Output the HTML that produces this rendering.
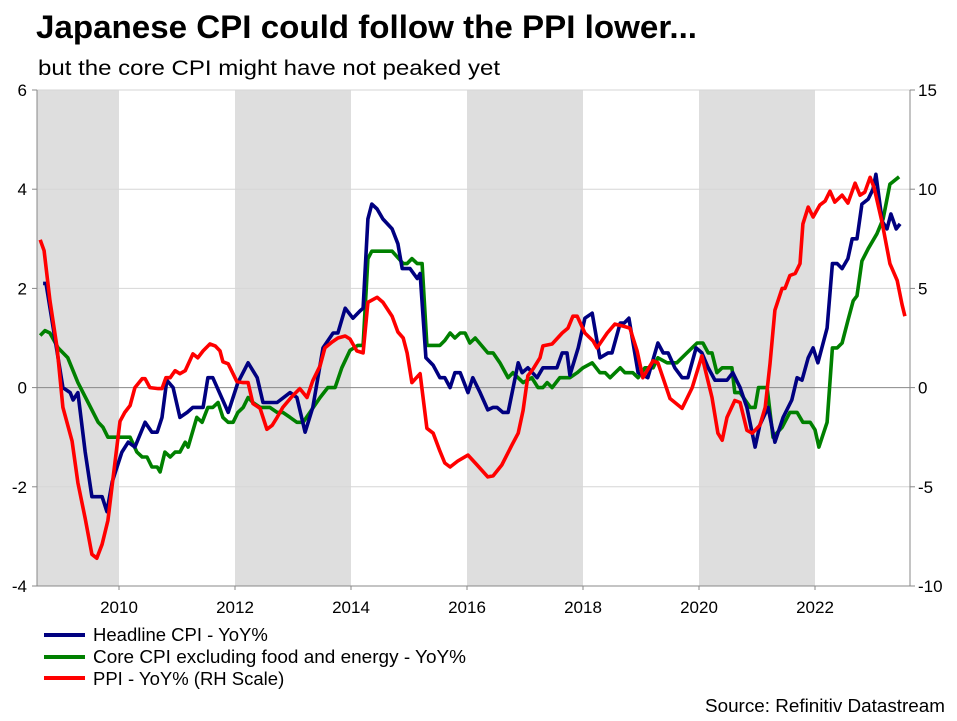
<!DOCTYPE html>
<html><head><meta charset="utf-8"><style>
body{margin:0;background:#fff;width:957px;height:716px;overflow:hidden;font-family:"Liberation Sans",Arial,sans-serif;}
</style></head><body>
<svg id="chart" width="957" height="716" xmlns="http://www.w3.org/2000/svg" font-family="Liberation Sans, Arial, sans-serif">
<text x="36" y="38" font-size="32" font-weight="bold" fill="#000" textLength="661" lengthAdjust="spacingAndGlyphs">Japanese CPI could follow the PPI lower...</text>
<text x="38" y="75" font-size="21" fill="#000" textLength="462" lengthAdjust="spacingAndGlyphs">but the core CPI might have not peaked yet</text>
<g id="bands"></g><g id="grid"></g><g id="axes"></g><g id="series"></g>
<g>
<line x1="44" y1="635" x2="85" y2="635" stroke="#000080" stroke-width="4"/>
<text x="93" y="641" font-size="18.5">Headline CPI - YoY%</text>
<line x1="44" y1="657" x2="85" y2="657" stroke="#008000" stroke-width="4"/>
<text x="93" y="663" font-size="18.5" textLength="373" lengthAdjust="spacingAndGlyphs">Core CPI excluding food and energy - YoY%</text>
<line x1="44" y1="678" x2="85" y2="678" stroke="#ff0000" stroke-width="4"/>
<text x="93" y="685" font-size="18.5">PPI - YoY% (RH Scale)</text>
</g>
<text x="945" y="712" font-size="18" text-anchor="end" textLength="240" lengthAdjust="spacingAndGlyphs">Source: Refinitiv Datastream</text>
</svg>
<script>
// months since Jan 2008
const yearTicks=[2010,2012,2014,2016,2018,2020,2022];
const leftTicks=[6,4,2,0,-2,-4];
const rightTicks=[15,10,5,0,-5,-10];
const shadedStartYears=[2008,2012,2016,2020];
const headlineCPI=[[8.3,2.1],[8.9,2.1],[12.4,0],[13.9,-0.1],[14.5,-0.25],[15.5,-0.1],[17.0,-1.3],[18.4,-2.2],[20.5,-2.2],[21.5,-2.5],[22.6,-1.9],[24.6,-1.3],[25.9,-1.1],[27.3,-1.2],[29.4,-0.7],[30.8,-0.9],[31.9,-0.9],[32.9,-0.6],[33.9,0.15],[35.2,0],[36.6,-0.6],[38.1,-0.5],[39.3,-0.4],[41.4,-0.4],[42.4,0.2],[43.4,0.2],[46.6,-0.5],[48.6,0.1],[50.7,0.5],[52.6,0.2],[53.8,-0.3],[56.7,-0.3],[59.4,-0.1],[60.8,-0.2],[62.5,-0.9],[64.1,-0.4],[66.2,0.8],[68.3,1.1],[69.3,1.1],[70.8,1.6],[72.4,1.4],[73.9,1.55],[74.5,1.6],[75.5,3.4],[76.3,3.7],[77.4,3.6],[78.6,3.4],[80.5,3.2],[81.7,2.9],[82.6,2.4],[84.2,2.4],[85.7,2.2],[86.3,2.3],[87.5,0.6],[89.0,0.45],[90.4,0.2],[91.4,0.2],[92.5,0],[93.5,0.3],[94.6,0.3],[96.2,-0.1],[97.2,0.2],[98.7,-0.1],[100.3,-0.45],[101.4,-0.4],[102.2,-0.4],[103.4,-0.5],[104.5,-0.5],[106.6,0.5],[107.4,0.3],[108.6,0.4],[110.5,0.2],[111.7,0.4],[114.6,0.4],[115.7,0.7],[116.7,0.7],[117.3,0.25],[119.0,0.8],[120.4,1.4],[121.9,1.5],[123.5,0.6],[125.2,0.7],[126.0,0.7],[127.7,1.3],[128.5,1.3],[129.5,1.4],[131.4,0.3],[133.4,0.2],[135.5,0.9],[136.6,0.7],[137.6,0.7],[139.0,0.4],[140.5,0.2],[141.7,0.2],[143.4,0.8],[144.6,0.7],[145.9,0.4],[147.3,0.15],[149.8,0.15],[151.0,0.3],[152.5,0],[153.9,-0.4],[155.6,-1.2],[156.6,-0.75],[158.3,-0.4],[159.7,-1.1],[161.4,-0.6],[163.2,-0.25],[164.3,0.2],[165.3,0.15],[166.6,0.6],[167.6,0.8],[168.6,0.5],[170.5,1.2],[171.6,2.5],[172.6,2.5],[173.6,2.4],[174.8,2.6],[175.7,3.0],[176.7,3.0],[177.7,3.7],[179.0,3.8],[180.0,4.0],[180.6,4.3],[181.9,3.35],[182.9,3.2],[183.7,3.5],[184.8,3.2],[185.6,3.3]];
const coreCPI=[[7.7,1.05],[8.7,1.15],[9.7,1.1],[11.4,0.8],[13.4,0.6],[15.5,0.1],[17.6,-0.3],[19.7,-0.7],[20.7,-0.8],[21.7,-1.0],[22.8,-1.0],[24.2,-1.0],[26.3,-1.0],[27.7,-1.3],[28.8,-1.4],[29.8,-1.4],[30.8,-1.6],[31.9,-1.6],[32.5,-1.7],[33.5,-1.3],[34.6,-1.4],[35.6,-1.3],[36.6,-1.3],[37.7,-1.1],[38.3,-1.2],[40.1,-0.6],[41.2,-0.7],[42.4,-0.4],[43.4,-0.4],[44.5,-0.3],[45.5,-0.6],[46.6,-0.7],[47.6,-0.7],[48.6,-0.5],[49.7,-0.4],[50.7,-0.2],[51.7,-0.3],[53.2,-0.4],[55.2,-0.4],[56.7,-0.5],[57.9,-0.5],[59.4,-0.6],[60.8,-0.7],[62.1,-0.7],[63.5,-0.5],[65.6,-0.2],[67.2,0],[68.7,0],[70.1,0.4],[71.8,0.75],[73.4,0.85],[74.5,0.85],[75.5,2.6],[76.3,2.75],[80.5,2.75],[82.8,2.5],[83.6,2.5],[84.6,2.6],[85.7,2.5],[86.7,2.5],[87.7,0.85],[90.4,0.85],[91.4,0.95],[92.5,1.1],[93.5,1.0],[94.6,1.1],[95.6,1.1],[96.6,0.9],[97.7,1.0],[100.3,0.7],[101.4,0.7],[102.8,0.5],[104.5,0.2],[105.5,0.3],[107.6,0.1],[109.4,0.2],[110.7,0],[111.7,0],[112.6,0.1],[113.6,0],[115.2,0.2],[117.3,0.2],[118.8,0.3],[120.0,0.4],[121.9,0.5],[123.5,0.3],[124.6,0.3],[125.6,0.2],[127.7,0.4],[128.7,0.3],[130.3,0.3],[131.4,0.2],[132.8,0.4],[134.5,0.4],[135.5,0.6],[137.4,0.5],[139.4,0.5],[141.5,0.7],[143.6,0.9],[144.8,0.9],[145.9,0.7],[146.7,0.7],[147.7,0.3],[148.8,0.4],[150.8,0.4],[151.4,-0.1],[152.5,-0.1],[154.6,-0.4],[155.6,-0.4],[156.3,0],[158.1,0],[159.3,-1.0],[161.2,-0.8],[162.8,-0.5],[164.3,-0.5],[165.5,-0.7],[167.0,-0.7],[168.0,-0.85],[168.8,-1.2],[170.5,-0.7],[171.6,0.8],[172.6,0.8],[173.6,0.9],[174.8,1.35],[175.9,1.75],[176.7,1.85],[177.7,2.55],[179.0,2.8],[180.8,3.1],[182.1,3.4],[183.5,4.1],[185.4,4.25]];
const ppi=[[7.7,7.45],[8.5,6.9],[9.7,4.4],[11.2,2.0],[12.4,-1.0],[14.3,-2.7],[15.5,-4.8],[17.0,-6.6],[18.4,-8.4],[19.4,-8.6],[20.5,-7.9],[21.7,-6.7],[22.8,-4.5],[24.2,-1.7],[25.2,-1.25],[26.3,-0.9],[27.3,0],[28.8,0.45],[29.4,0.45],[30.4,0],[32.1,-0.05],[32.9,-0.05],[33.7,0.5],[34.6,0.5],[35.6,0.85],[36.6,0.7],[37.7,0.85],[39.3,1.7],[40.3,1.5],[41.4,1.85],[42.8,2.2],[43.9,2.1],[44.9,1.85],[45.5,1.3],[46.6,1.2],[48.4,0.3],[49.7,0.25],[50.7,0.25],[51.7,-0.8],[53.2,-1.05],[54.6,-2.1],[55.7,-1.9],[56.7,-1.5],[57.9,-1.0],[59.8,-0.45],[61.4,-0.05],[62.9,-0.5],[64.1,0.35],[65.6,1.1],[66.6,2.0],[68.1,2.3],[69.3,2.5],[70.8,2.6],[71.8,2.45],[73.2,1.85],[74.5,1.75],[75.5,4.3],[77.4,4.55],[78.6,4.3],[80.5,3.6],[81.7,2.8],[82.8,2.5],[83.6,1.75],[84.6,0.25],[86.3,0.7],[87.7,-2.05],[89.0,-2.3],[90.4,-3.2],[91.4,-3.8],[92.5,-4.0],[94.1,-3.7],[96.2,-3.4],[98.1,-3.9],[100.3,-4.5],[101.4,-4.45],[103.2,-3.9],[105.3,-2.9],[106.6,-2.3],[107.6,-1.15],[108.6,0.6],[109.7,0.95],[111.1,1.5],[111.7,2.1],[113.6,2.2],[115.7,2.75],[116.9,3.0],[117.9,3.6],[118.8,3.6],[120.4,2.75],[122.1,2.35],[122.9,2.0],[125.0,2.75],[126.6,3.2],[128.3,3.1],[129.7,3.0],[131.2,1.85],[132.4,0.5],[134.5,1.35],[135.5,1.25],[138.0,-0.55],[140.5,-1.05],[142.6,0],[144.6,1.6],[146.7,-0.5],[147.9,-2.3],[148.8,-2.65],[149.8,-1.5],[151.4,-0.65],[152.5,-0.75],[153.9,-2.15],[155.0,-2.3],[156.6,-1.9],[157.7,-1.0],[158.7,1.2],[159.7,3.9],[161.2,5.0],[161.8,5.0],[162.8,5.65],[163.9,5.75],[164.9,6.25],[165.5,8.25],[166.6,9.1],[167.6,8.6],[169.0,9.2],[170.1,9.4],[171.1,9.9],[172.1,9.35],[173.6,9.7],[174.8,9.3],[176.3,10.3],[177.3,9.7],[178.3,9.85],[179.4,10.6],[180.2,10.1],[181.9,8.3],[183.5,6.25],[185.0,5.4],[186.0,4.2],[186.6,3.6]];

const NS='http://www.w3.org/2000/svg';
const L=37,R=910,T=90,B=586;
const xM=m=>3+m*(58/12);
const xY=y=>xM((y-2008)*12);
const yL=v=>T+(6-v)*(B-T)/10;
const yR=v=>T+(15-v)*(B-T)/25;
function mk(tag,attrs,parent){const e=document.createElementNS(NS,tag);for(const k in attrs)e.setAttribute(k,attrs[k]);parent.appendChild(e);return e;}
const bands=document.getElementById('bands'),grid=document.getElementById('grid'),axes=document.getElementById('axes'),series=document.getElementById('series');
shadedStartYears.forEach(y=>{const x0=Math.max(L,xY(y)),x1=Math.min(R,xY(y+2));
const r=mk('rect',{x:x0,y:T,width:x1-x0,height:B-T,fill:'#dedede'},bands);

});
leftTicks.forEach(v=>{const y=yL(v);
if(v!==-4){const g=mk('line',{x1:L,x2:R,y1:y,y2:y,stroke:v===0?'#888':'#d6d6d6','stroke-width':1},grid);

}
mk('line',{x1:L-5,x2:L,y1:y,y2:y,stroke:'#888'},axes);
const t=mk('text',{x:27,y:y+6,'font-size':17,'text-anchor':'end'},axes);t.textContent=v;

});
rightTicks.forEach(v=>{const y=yR(v);
mk('line',{x1:R,x2:R+5,y1:y,y2:y,stroke:'#888'},axes);
const t=mk('text',{x:918,y:y+6,'font-size':17},axes);t.textContent=v;

});
yearTicks.forEach(yr=>{const x=xY(yr);
mk('line',{x1:x,x2:x,y1:B,y2:B+4,stroke:'#888'},axes);
const t=mk('text',{x:x,y:613,'font-size':17,'text-anchor':'middle'},axes);t.textContent=yr;

});
mk('line',{x1:L,x2:L,y1:T,y2:B,stroke:'#888'},axes);
mk('line',{x1:R,x2:R,y1:T,y2:B,stroke:'#888'},axes);
mk('line',{x1:L,x2:R,y1:B,y2:B,stroke:'#888'},axes);
function draw(data,yf,color,name){const d=data.map((p,i)=>(i?'L':'M')+xM(p[0]).toFixed(1)+','+yf(p[1]).toFixed(1)).join('');
const p=mk('path',{d:d,fill:'none',stroke:color,'stroke-width':3.6,'stroke-linejoin':'round'},series);

}
draw(coreCPI,yL,'#008000','core-cpi-line');
draw(headlineCPI,yL,'#000080','headline-cpi-line');
draw(ppi,yR,'#ff0000','ppi-line');
</script>
</body></html>
